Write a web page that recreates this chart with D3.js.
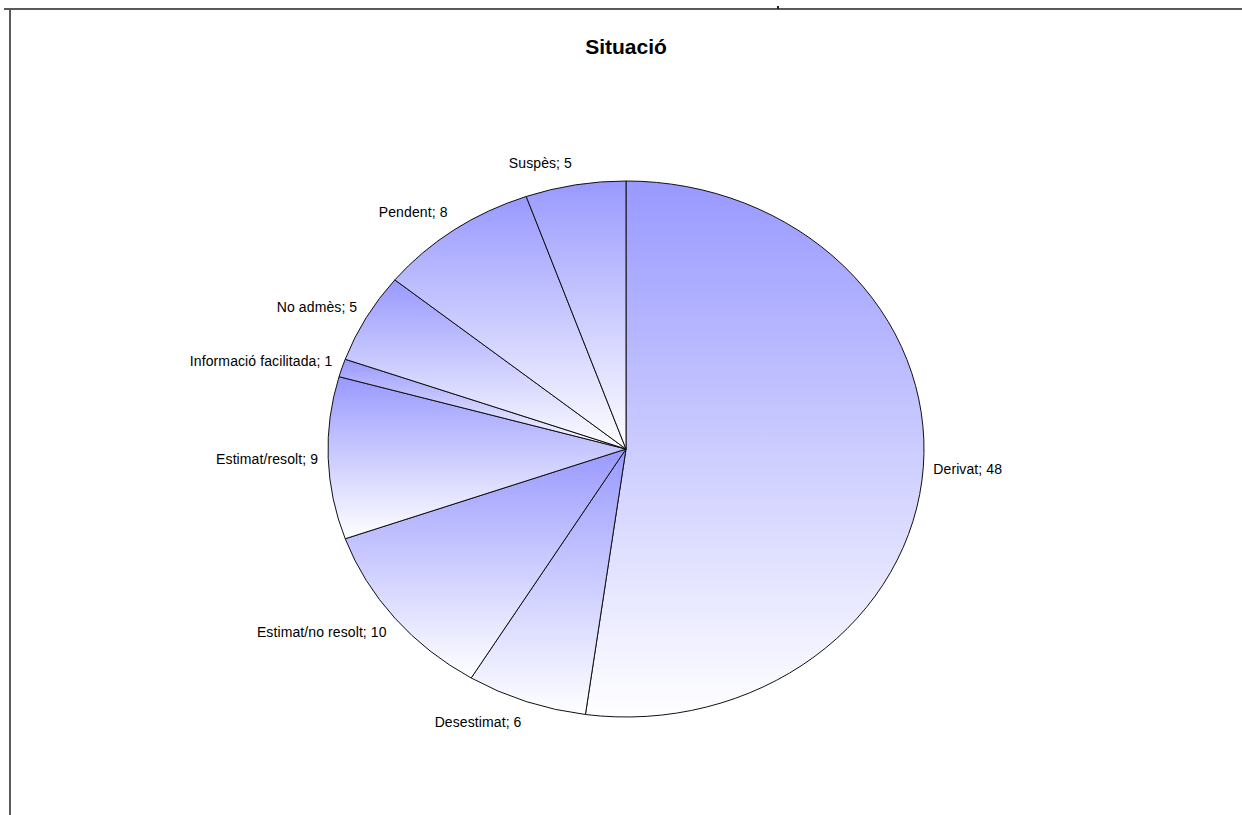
<!DOCTYPE html>
<html>
<head>
<meta charset="utf-8">
<script src="https://cdn.jsdelivr.net/npm/d3@7"></script>
<style>
  body { margin: 0; background: #fff; }
  svg { display: block; }
</style>
</head>
<body>
<script>
// chart data
var categories = ["Derivat", "Desestimat", "Estimat/no resolt", "Estimat/resolt",
                  "Informació facilitada", "No admès", "Pendent", "Suspès"];
var values = [48, 6, 10, 9, 1, 5, 8, 5];
var title = "Situació";

var w = 1242, h = 815;
var cx = 626, cy = 449;
var rx = 298, ry = 268;

var svg = d3.select("body").append("svg")
    .attr("width", w)
    .attr("height", h);

// frame lines
svg.append("line").attr("x1", 4).attr("y1", 9).attr("x2", w).attr("y2", 9)
    .attr("stroke", "#5a5a5a").attr("stroke-width", 2);
svg.append("line").attr("x1", 10).attr("y1", 9).attr("x2", 10).attr("y2", h)
    .attr("stroke", "#5a5a5a").attr("stroke-width", 2);
svg.append("rect").attr("x", 777).attr("y", 6).attr("width", 2).attr("height", 3)
    .attr("fill", "#222");

// title
svg.append("text")
    .attr("x", cx).attr("y", 54)
    .attr("text-anchor", "middle")
    .style("font-family", "Liberation Sans, Arial, sans-serif")
    .style("font-weight", "bold")
    .style("font-size", "21px")
    .text(title);

var defs = svg.append("defs");
var pie = d3.pie().sort(null).value(function (d) { return d; });
var arcs = pie(values);

arcs.forEach(function (a, i) {
    var g = defs.append("linearGradient")
        .attr("id", "grad" + i)
        .attr("x1", 0).attr("y1", 0).attr("x2", 0).attr("y2", 1);
    g.append("stop").attr("offset", "0%").attr("stop-color", "#9999ff");
    g.append("stop").attr("offset", "100%").attr("stop-color", "#ffffff");
});

var arc = d3.arc().innerRadius(0).outerRadius(rx);

var pieG = svg.append("g")
    .attr("transform", "translate(" + cx + "," + cy + ") scale(1," + (ry / rx) + ")");

pieG.selectAll("path")
    .data(arcs)
    .enter()
    .append("path")
    .attr("d", arc)
    .attr("fill", function (d, i) { return "url(#grad" + i + ")"; })
    .attr("stroke", "#111")
    .attr("stroke-width", 1)
    .attr("vector-effect", "non-scaling-stroke")
    .attr("stroke-linejoin", "round");

// labels
var off = 8;
svg.selectAll("text.lbl")
    .data(arcs)
    .enter()
    .append("text")
    .attr("class", "lbl")
    .style("font-family", "Liberation Sans, Arial, sans-serif")
    .style("font-size", "14px")
    .style("letter-spacing", "0.1px")
    .attr("dominant-baseline", "central")
    .attr("text-anchor", function (d) {
        var m = (d.startAngle + d.endAngle) / 2;
        return Math.sin(m) >= 0 ? "start" : "end";
    })
    .attr("x", function (d) {
        var m = (d.startAngle + d.endAngle) / 2;
        return cx + (rx + off) * Math.sin(m) + (Math.sin(m) >= 0 ? 2 : -2);
    })
    .attr("y", function (d) {
        var m = (d.startAngle + d.endAngle) / 2;
        return cy - (ry + off) * Math.cos(m) - Math.cos(m) * 14;
    })
    .text(function (d, i) { return categories[i] + "; " + values[i]; });
</script>
</body>
</html>
